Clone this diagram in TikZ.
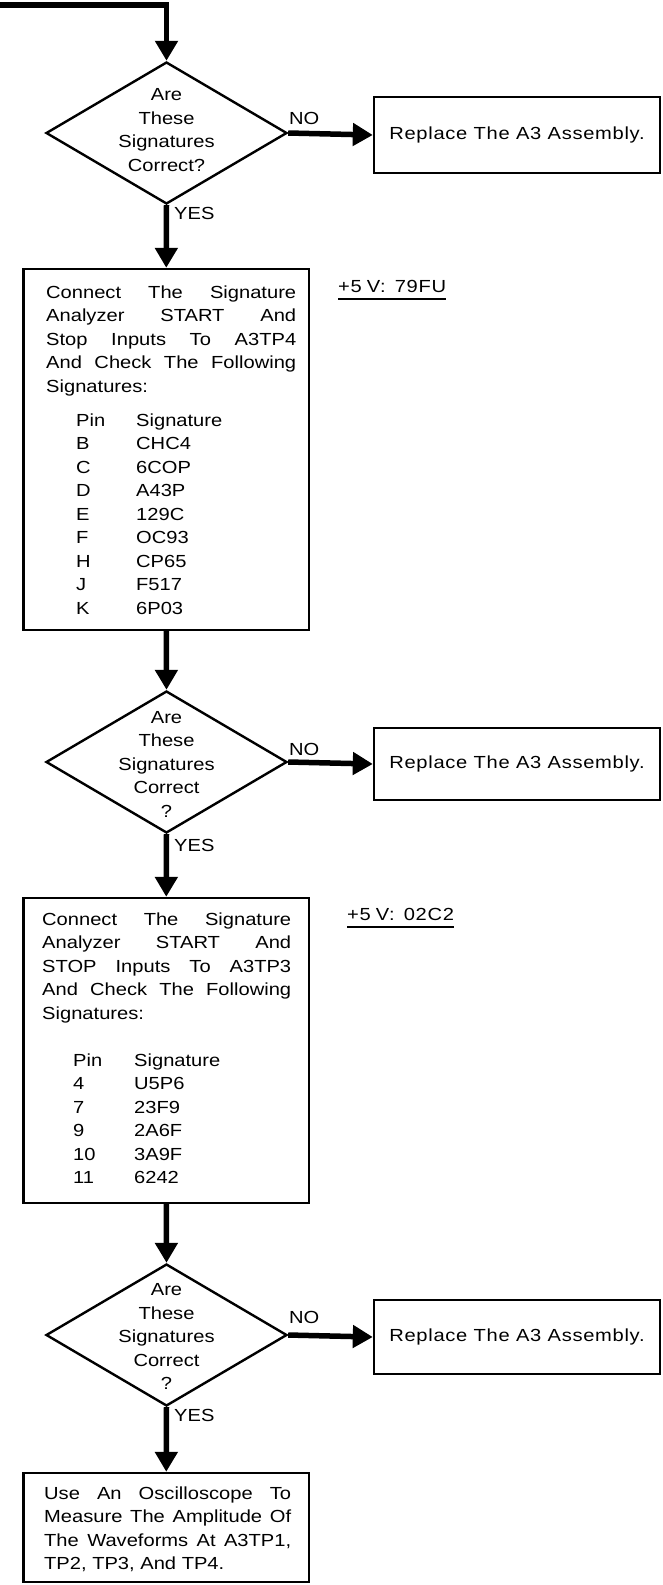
\documentclass[tikz,border=0pt]{standalone}
\usepackage{fontspec}
\setmainfont{Liberation Sans}[FakeStretch=1.15]
\usetikzlibrary{shapes.geometric,arrows.meta}
\newcommand\mysz{\fontsize{17.5}{23.5}\selectfont}
\newcommand\jl[2]{\makebox[#1pt][s]{#2}}
\newcommand\pinrow[4]{\hspace*{#1pt}\makebox[#2pt][l]{#3}#4}
\newsavebox\ulbox
\newcommand\uline[1]{\sbox\ulbox{#1}\rlap{\rule[-7pt]{\wd\ulbox}{1.8pt}}\usebox\ulbox}
\newcommand\wide{\addfontfeature{LetterSpace=4}}
\tikzset{
  flow/.style={line width=5.5pt, -{Triangle[width=22pt,length=20pt]}},
  dia/.style={draw, line width=2.4pt, diamond, minimum width=241pt, minimum height=142pt, inner sep=0pt},
  box/.style={draw, line width=2.4pt, rectangle, inner sep=0pt},
  repl/.style={box, minimum width=286pt, font=\mysz\wide},
  dtext/.style={inner sep=0pt, align=center},
  para/.style={inner sep=0pt, align=left, anchor=north west},
  lab/.style={inner sep=0pt},
  volt/.style={inner sep=0pt, anchor=west, font=\mysz\wide},
}
\begin{document}
\begin{tikzpicture}[x=1pt,y=-1pt,font=\mysz]
\useasboundingbox (0,0) rectangle (662,1585);

% ---------- first decision ----------
\coordinate (start) at (0,5);
\node[dia] (d1) at (166.5,133) {};
\node[dtext] (t1) at (166.5,130) {Are\\These\\Signatures\\Correct?};
\node[repl, minimum height=76pt] (r1) at (517,135) {Replace The A3 Assembly.};
\node[lab, anchor=west] (no1) at (289,118) {NO};
\node[lab, anchor=west] (yes1) at (174,213) {YES};

% ---------- first signature box ----------
\node[box, minimum width=285.5pt, minimum height=361pt] (b2) at (166.25,449.5) {};
\node[para] (p2) at (46,285.5) {%
\jl{250}{Connect The Signature}\\
\jl{250}{Analyzer START And}\\
\jl{250}{Stop Inputs To A3TP4}\\
\jl{250}{And Check The Following}\\
Signatures:\\[10.5pt]
\pinrow{30}{60}{Pin}{Signature}\\
\pinrow{30}{60}{B}{CHC4}\\
\pinrow{30}{60}{C}{6COP}\\
\pinrow{30}{60}{D}{A43P}\\
\pinrow{30}{60}{E}{129C}\\
\pinrow{30}{60}{F}{OC93}\\
\pinrow{30}{60}{H}{CP65}\\
\pinrow{30}{60}{J}{F517}\\
\pinrow{30}{60}{K}{6P03}};
\node[volt] (v1) at (338,290) {\uline{+5\hspace{5pt}V:\hspace{9pt}79FU}};

% ---------- second decision ----------
\node[dia] (d2) at (166.5,762) {};
\node[dtext] (t2) at (166.5,764) {Are\\These\\Signatures\\Correct\\?};
\node[repl, minimum height=72pt] (r2) at (517,764) {Replace The A3 Assembly.};
\node[lab, anchor=west] (no2) at (289,749) {NO};
\node[lab, anchor=west] (yes2) at (174,845) {YES};

% ---------- second signature box ----------
\node[box, minimum width=285.5pt, minimum height=305pt] (b3) at (166.25,1050.5) {};
\node[para] (p3) at (42,912.5) {%
\jl{249}{Connect The Signature}\\
\jl{249}{Analyzer START And}\\
\jl{249}{STOP Inputs To A3TP3}\\
\jl{249}{And Check The Following}\\
Signatures:\\[23.5pt]
\pinrow{31}{61}{Pin}{Signature}\\
\pinrow{31}{61}{4}{U5P6}\\
\pinrow{31}{61}{7}{23F9}\\
\pinrow{31}{61}{9}{2A6F}\\
\pinrow{31}{61}{10}{3A9F}\\
\pinrow{31}{61}{11}{6242}};
\node[volt] (v2) at (347,918) {\uline{+5\hspace{5pt}V:\hspace{9pt}02C2}};

% ---------- third decision ----------
\node[dia] (d3) at (166.5,1335) {};
\node[dtext] (t3) at (166.5,1336.5) {Are\\These\\Signatures\\Correct\\?};
\node[repl, minimum height=74pt] (r3) at (517,1337) {Replace The A3 Assembly.};
\node[lab, anchor=west] (no3) at (289,1317) {NO};
\node[lab, anchor=west] (yes3) at (174,1415) {YES};

% ---------- final box ----------
\node[box, minimum width=285.5pt, minimum height=109pt] (b4) at (166.25,1527.5) {};
\node[para] (p4) at (44,1486.5) {%
\jl{247}{Use An Oscilloscope To}\\
\jl{247}{Measure The Amplitude Of}\\
\jl{247}{The Waveforms At A3TP1,}\\
TP2, TP3, And TP4.};

% ---------- connectors ----------
\draw[flow] (start) -| (d1.north);
\draw[flow] (d1.east) -- (r1.west);
\draw[flow] (d1.south) -- (b2.north);
\draw[flow] (b2.south) -- (d2.north);
\draw[flow] (d2.east) -- (r2.west);
\draw[flow] (d2.south) -- (b3.north);
\draw[flow] (b3.south) -- (d3.north);
\draw[flow] (d3.east) -- (r3.west);
\draw[flow] (d3.south) -- (b4.north);
\end{tikzpicture}
\end{document}
